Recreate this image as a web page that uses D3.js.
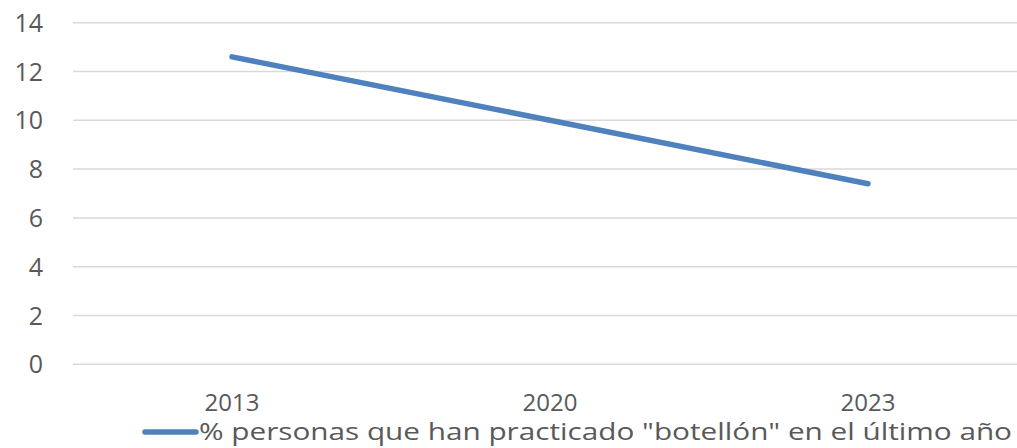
<html>
<head>
<script src="https://d3js.org/d3.v7.min.js"></script>
<style>
body { margin: 0; background: #fff; }
text { font-family: "Open Sans", "Liberation Sans", sans-serif; fill: #595959; }
</style>
</head>
<body>
<svg width="1017" height="448"></svg>
<script>
// data
var years = ["2013", "2020", "2023"];
var values = [12.6, 10.0, 7.4];
var yTicks = [0, 2, 4, 6, 8, 10, 12, 14];
var seriesName = '% personas que han practicado "botellón" en el último año';

var svg = d3.select("svg");

var x = d3.scaleBand().domain(years).range([73, 1027]);
var y = d3.scaleLinear().domain([0, 14]).range([364.3, 22.7]);

// gridlines
svg.append("g")
  .selectAll("line")
  .data(yTicks)
  .enter()
  .append("line")
    .attr("x1", 73)
    .attr("x2", 1017)
    .attr("y1", function(d) { return y(d); })
    .attr("y2", function(d) { return y(d); })
    .attr("stroke", "#d9d9d9")
    .attr("stroke-width", 1.5);

// y labels
svg.append("g")
  .selectAll("text")
  .data(yTicks)
  .enter()
  .append("text")
    .attr("x", 43)
    .attr("y", function(d) { return y(d); })
    .attr("dy", "0.36em")
    .attr("font-size", "25px")
    .style("text-anchor", "end")
    .text(function(d) { return d; });

// x labels
svg.append("g")
  .selectAll("text")
  .data(years)
  .enter()
  .append("text")
    .attr("x", function(d) { return x(d) + x.bandwidth() / 2; })
    .attr("y", 411)
    .attr("font-size", "24px")
    .style("text-anchor", "middle")
    .text(function(d) { return d; });

// line
var line = d3.line()
  .x(function(d, i) { return x(years[i]) + x.bandwidth() / 2; })
  .y(function(d) { return y(d); });

svg.append("path")
  .datum(values)
  .attr("d", line)
  .attr("fill", "none")
  .attr("stroke", "#4f81bd")
  .attr("stroke-width", 5.5)
  .attr("stroke-linecap", "round");

// legend
svg.append("line")
  .attr("x1", 145).attr("x2", 196)
  .attr("y1", 432).attr("y2", 432)
  .attr("stroke", "#4f81bd")
  .attr("stroke-width", 5.5)
  .attr("stroke-linecap", "round");

svg.append("text")
  .attr("x", 199)
  .attr("y", 440)
  .attr("font-size", "23px")
  .attr("textLength", 813)
  .attr("lengthAdjust", "spacingAndGlyphs")
  .text(seriesName);
</script>
</body>
</html>
